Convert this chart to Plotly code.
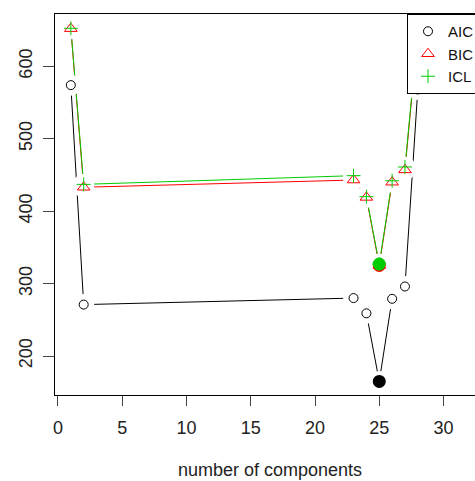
import numpy as np
import plotly.graph_objects as go

# Information criteria by number of mixture components
components = [1, 2, 23, 24, 25, 26, 27, 28]
aic = [574, 271, 280, 259, 165, 279, 296, 568]
bic = [652, 433, 443, 419, 325, 440, 457, 645]
icl = [652.5, 437, 449, 420, 327, 442, 461, 648]

x_ticks = [0, 5, 10, 15, 20, 25, 30]
y_ticks = [200, 300, 400, 500, 600]

BLACK = "#000000"
RED = "#FF0000"
GREEN = "#00CD00"
FONT = "Liberation Sans, Arial, Helvetica, sans-serif"

series = [
    ("AIC", aic, BLACK, "circle-open", 9),
    ("BIC", bic, RED, "triangle-up-open", 11),
    ("ICL", icl, GREEN, "cross-thin-open", 10),
]

fig = go.Figure()

# connecting lines
for name, vals, col, sym, size in series:
    fig.add_trace(go.Scatter(
        x=components, y=vals, mode="lines",
        line=dict(color=col, width=1), showlegend=False, hoverinfo="skip",
    ))

# white discs break the lines around each point (type="b" look)
for name, vals, col, sym, size in series:
    fig.add_trace(go.Scatter(
        x=components, y=vals, mode="markers",
        marker=dict(symbol="circle", size=21, color="white", line=dict(width=0)),
        showlegend=False, hoverinfo="skip",
    ))

# point symbols
for name, vals, col, sym, size in series:
    fig.add_trace(go.Scatter(
        x=components, y=vals, mode="markers", name=name,
        marker=dict(symbol=sym, size=size, color=col, line=dict(color=col, width=1)),
    ))

# highlight the minimum of each criterion
for name, vals, col, sym, size in series:
    i = int(np.argmin(vals))
    fig.add_trace(go.Scatter(
        x=[components[i]], y=[vals[i]], mode="markers",
        marker=dict(symbol="circle", size=13, color=col, line=dict(width=0)),
        showlegend=False, hoverinfo="skip",
    ))

W, H = 475, 481
ml, mr, mt, mb = 55, 0, 14, 86
pw = W - ml - mr
ph = H - mt - mb

fig.update_layout(
    width=W, height=H,
    margin=dict(l=ml, r=mr, t=mt, b=mb, pad=0, autoexpand=False),
    paper_bgcolor="white", plot_bgcolor="white",
    font=dict(family=FONT, size=18, color="#222222"),
    showlegend=True,
    legend=dict(
        x=(407 - ml) / pw, y=1, xanchor="left", yanchor="top",
        bgcolor="white", bordercolor=BLACK, borderwidth=1,
        font=dict(family=FONT, size=15, color="#111111"),
        itemwidth=30,
    ),
    xaxis=dict(
        range=[-0.233, 32.45], tickvals=x_ticks, ticktext=[str(v) for v in x_ticks],
        showgrid=False, zeroline=False, showline=True, linecolor=BLACK, linewidth=1,
        mirror=True, ticks="outside", ticklen=10, tickcolor="#444444",
        ticklabelstandoff=6,
    ),
    yaxis=dict(
        range=[146.2, 672.2], tickvals=y_ticks, ticktext=[str(v) for v in y_ticks],
        showgrid=False, zeroline=False, showline=True, linecolor=BLACK, linewidth=1,
        ticks="outside", ticklen=11, tickcolor="#444444", tickangle=-90,
        ticklabelstandoff=4,
    ),
    annotations=[dict(
        text="number of components", xref="paper", yref="paper",
        x=(270 - ml) / pw, y=(395 - 470) / ph, xanchor="center", yanchor="middle",
        showarrow=False, font=dict(family=FONT, size=18, color="#222222"),
    )],
)

fig.write_html("out.html")
